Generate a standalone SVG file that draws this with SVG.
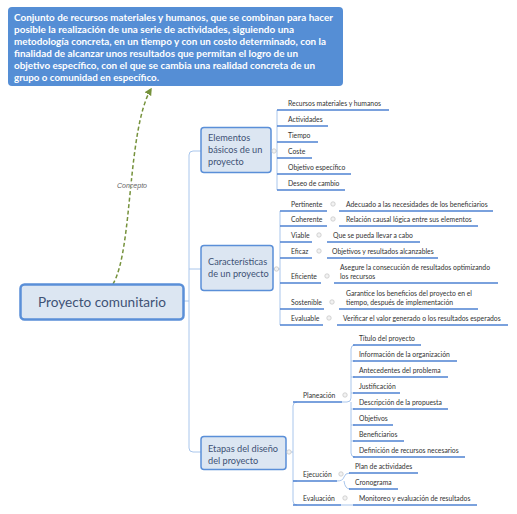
<svg xmlns="http://www.w3.org/2000/svg" width="517" height="514" viewBox="0 0 517 514">
<defs>
<marker id="arr" viewBox="0 0 10 10" refX="8" refY="5" markerWidth="5" markerHeight="5" orient="auto" markerUnits="strokeWidth">
<path d="M0,0 L10,5 L0,10 z" fill="#76923c"/>
</marker>
<style>
.n{fill:#dce6f2;stroke:#5a8fd8;stroke-width:1.5}
.nt{font-family:Lato,"Open Sans",sans-serif;font-size:9.2px;fill:#3e5275}
.t{font-family:Lato,"Open Sans",sans-serif;font-size:6.8px;fill:#333}
.u{stroke:#4f83d2;stroke-width:1.4;fill:none}
.c{stroke:#a9c6ec;stroke-width:1;fill:none}
.k{fill:#f2f2f2;stroke:#c8c8c8;stroke-width:0.8}
.w{font-family:Lato,"Open Sans",sans-serif;font-size:9.3px;font-weight:bold;fill:#fff}
</style>
</defs>
<rect width="517" height="514" fill="#fff"/>
<g id="connectors">
<path d="M113,284 C133,250 127,130 151,89" fill="none" stroke="#76923c" stroke-width="1.5" stroke-dasharray="4,2.5" marker-end="url(#arr)"/>
<rect x="117" y="181" width="30" height="7" fill="#fff" fill-opacity="0.6"/>
<text x="132" y="187.5" text-anchor="middle" font-family="'Liberation Sans',Arial,sans-serif" font-size="7.5" font-style="italic" fill="#666" textLength="30" lengthAdjust="spacingAndGlyphs">Concepto</text>
<path class="c" d="M183,301 H189 M201,151 H193 Q189,151 189,155 V448 Q189,452 193,452 H201 M189,269 H201"/>
<path class="c" d="M271,151 H277 M277,110 V190"/>
<path class="c" d="M273,269 H280 M280,211 V325"/>
<path class="c" d="M286,452 H293 M297,402 Q293,402 293,406 V501 Q293,505 297,505 M293,481 H297"/>
<path class="c" d="M342,402 H347 Q351,402 351,398 V349 Q351,345 355,345 M351,402 V453 Q351,457 355,457 M351,361 H355 M351,377 H355 M351,393 H355 M351,409 H355 M351,425 H355 M351,441 H355"/>
<path class="c" d="M337,481 Q343,481 344,477 Q345,473 350,473 M344,481 Q345,489 350,489"/>
<path class="c" d="M341,505 H353"/>
</g>
<g id="concept-box">
<rect x="8" y="7" width="335" height="79" rx="4" fill="#558ed5"/>
<text class="w" x="14" y="20.5" textLength="319" lengthAdjust="spacingAndGlyphs">Conjunto de recursos materiales y humanos, que se combinan para hacer</text>
<text class="w" x="14" y="32.6" textLength="280" lengthAdjust="spacingAndGlyphs">posible la realización de una serie de actividades, siguiendo una</text>
<text class="w" x="14" y="44.7" textLength="312" lengthAdjust="spacingAndGlyphs">metodología concreta, en un tiempo y con un costo determinado, con la</text>
<text class="w" x="14" y="56.8" textLength="284" lengthAdjust="spacingAndGlyphs">finalidad de alcanzar unos resultados que permitan el logro de un</text>
<text class="w" x="14" y="68.9" textLength="301" lengthAdjust="spacingAndGlyphs">objetivo específico, con el que se cambia una realidad concreta de un</text>
<text class="w" x="14" y="81" textLength="145" lengthAdjust="spacingAndGlyphs">grupo o comunidad en específico.</text>
</g>
<g id="main">
<rect x="20.5" y="284.5" width="163" height="35" rx="4" fill="#dce6f2" stroke="#5a8fd8" stroke-width="2.5"/>
<text x="102" y="306.5" text-anchor="middle" font-family="Lato,'Open Sans',sans-serif" font-size="14" fill="#3e5275" textLength="128" lengthAdjust="spacingAndGlyphs">Proyecto comunitario</text>
</g>
<g id="elementos">
<rect class="n" x="201" y="127.5" width="70" height="45" rx="3"/>
<text class="nt" x="208" y="141">Elementos</text>
<text class="nt" x="208" y="153">básicos de un</text>
<text class="nt" x="208" y="165">proyecto</text>
<circle class="k" cx="274" cy="151" r="2.2"/>
</g>
<g id="elementos-items">
<path class="u" d="M277,110 H389 M277,126 H328 M277,142 H318 M277,158 H312 M277,174 H351 M277,190 H345"/>
<text class="t" x="288" y="106">Recursos materiales y humanos</text>
<text class="t" x="288" y="122">Actividades</text>
<text class="t" x="288" y="138">Tiempo</text>
<text class="t" x="288" y="154">Coste</text>
<text class="t" x="288" y="170">Objetivo específico</text>
<text class="t" x="288" y="186">Deseo de cambio</text>
</g>
<g id="caracteristicas">
<rect class="n" x="201" y="245.5" width="72" height="45" rx="3"/>
<text class="nt" x="208" y="265">Características</text>
<text class="nt" x="208" y="277">de un proyecto</text>
<circle class="k" cx="276.5" cy="269" r="2.2"/>
</g>
<g id="caracteristicas-items">
<path class="u" d="M280,211 H327 M339,211 H493 M280,226 H327 M339,226 H478 M280,242 H312 M327,242 H420 M280,258 H312 M327,258 H438 M280,283 H321 M334,283 H498 M280,309 H324 M339,309 H478 M280,325 H323 M337,325 H508"/>
<circle class="k" cx="333" cy="204" r="2.2"/>
<circle class="k" cx="333" cy="219" r="2.2"/>
<circle class="k" cx="319" cy="235" r="2.2"/>
<circle class="k" cx="319" cy="251" r="2.2"/>
<circle class="k" cx="327" cy="276" r="2.2"/>
<circle class="k" cx="332" cy="302" r="2.2"/>
<circle class="k" cx="329" cy="318" r="2.2"/>
<text class="t" x="291" y="207">Pertinente</text>
<text class="t" x="346" y="207">Adecuado a las necesidades de los beneficiarios</text>
<text class="t" x="291" y="222">Coherente</text>
<text class="t" x="346" y="222">Relación causal lógica entre sus elementos</text>
<text class="t" x="291" y="238">Viable</text>
<text class="t" x="333" y="238">Que se pueda llevar a cabo</text>
<text class="t" x="291" y="254">Eficaz</text>
<text class="t" x="332" y="254">Objetivos y resultados alcanzables</text>
<text class="t" x="291" y="279">Eficiente</text>
<text class="t" x="340" y="270">Asegure la consecución de resultados optimizando</text>
<text class="t" x="340" y="279">los recursos</text>
<text class="t" x="291" y="305">Sostenible</text>
<text class="t" x="346" y="296">Garantice los beneficios del proyecto en el</text>
<text class="t" x="346" y="305">tiempo, después de implementación</text>
<text class="t" x="291" y="321">Evaluable</text>
<text class="t" x="343" y="321">Verificar el valor generado o los resultados esperados</text>
</g>
<g id="etapas">
<rect class="n" x="201" y="436.5" width="85" height="33" rx="3"/>
<text class="nt" x="208" y="452">Etapas del diseño</text>
<text class="nt" x="208" y="464">del proyecto</text>
<circle class="k" cx="289" cy="452" r="2.2"/>
</g>
<g id="etapas-items">
<path class="u" d="M293,402 H342 M293,481 H337 M293,505 H341"/>
<circle class="k" cx="345" cy="395" r="2.2"/>
<circle class="k" cx="341" cy="474" r="2.2"/>
<circle class="k" cx="345" cy="498" r="2.2"/>
<text class="t" x="303" y="398">Planeación</text>
<text class="t" x="303" y="477">Ejecución</text>
<text class="t" x="303" y="501">Evaluación</text>
</g>
<g id="planeacion-items">
<path class="u" d="M353,345 H421 M353,361 H457 M353,377 H448 M353,393 H400 M353,409 H448 M353,425 H393 M353,441 H404 M353,457 H465"/>
<text class="t" x="359" y="341">Título del proyecto</text>
<text class="t" x="359" y="357">Información de la organización</text>
<text class="t" x="359" y="373">Antecedentes del problema</text>
<text class="t" x="359" y="389">Justificación</text>
<text class="t" x="359" y="405">Descripción de la propuesta</text>
<text class="t" x="359" y="421">Objetivos</text>
<text class="t" x="359" y="437">Beneficiarios</text>
<text class="t" x="359" y="453">Definición de recursos necesarios</text>
</g>
<g id="ejecucion-items">
<path class="u" d="M349,473 H418 M349,489 H398"/>
<text class="t" x="355" y="469">Plan de actividades</text>
<text class="t" x="355" y="485">Cronograma</text>
</g>
<g id="evaluacion-items">
<path class="u" d="M353,505 H477"/>
<text class="t" x="359" y="501">Monitoreo y evaluación de resultados</text>
</g>
</svg>
